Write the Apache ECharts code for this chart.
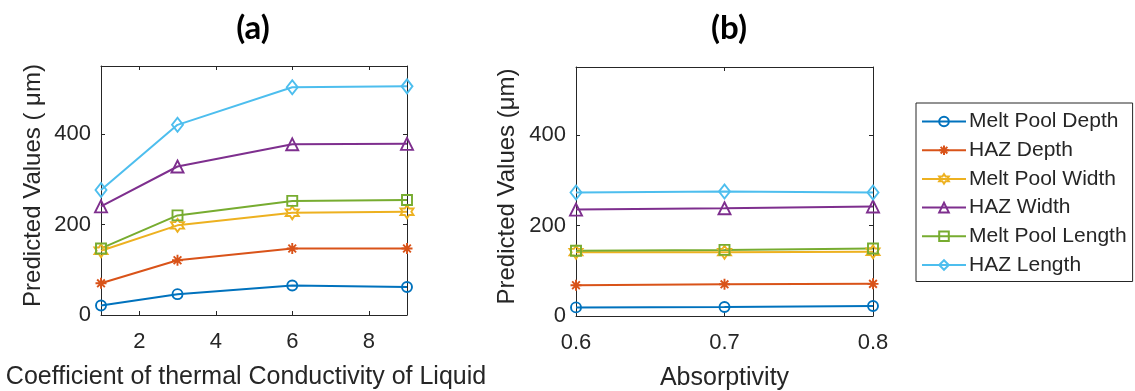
<!DOCTYPE html>
<html>
<head>
<meta charset="utf-8">
<script src="https://cdn.jsdelivr.net/npm/echarts@6/dist/echarts.min.js"></script>
<style>
  html, body { margin: 0; padding: 0; background: #fff; }
  #chart { width: 1135px; height: 391px; }
</style>
</head>
<body>
<div id="chart"></div>
<script>
// Parameter values on the two x axes
const conductivity = [1, 3, 6, 9];
const absorptivity = [0.6, 0.7, 0.8];

// Tick labels
const ticksCondX = [2, 4, 6, 8];
const ticksAbsX = [0.6, 0.7, 0.8];
const ticksY = [0, 200, 400];

// Series names
const seriesNames = ['Melt Pool Depth', 'HAZ Depth', 'Melt Pool Width', 'HAZ Width', 'Melt Pool Length', 'HAZ Length'];

// (a) predicted values (µm) vs coefficient of thermal conductivity of liquid
const meltDepthA = [21, 46, 65, 62];
const hazDepthA = [70, 121, 147, 147];
const meltWidthA = [142, 198, 226, 228];
const hazWidthA = [240, 328, 377, 378];
const meltLengthA = [147, 220, 252, 254];
const hazLengthA = [276, 420, 503, 505];

// (b) predicted values (µm) vs absorptivity
const meltDepthB = [19, 20, 22];
const hazDepthB = [68, 70, 71];
const meltWidthB = [141, 141, 142];
const hazWidthB = [235, 238, 242];
const meltLengthB = [144, 146, 149];
const hazLengthB = [273, 275, 273];

const colors = ['#0072BD', '#D95319', '#EDB120', '#7E2F8E', '#77AC30', '#4DBEEE'];

// Marker shapes (open markers)
const asterisk = 'path://M5,0L5,10M0,5L10,5M1.5,1.5L8.5,8.5M1.5,8.5L8.5,1.5';
const hexagram = 'path://M5,0L6.443,2.5L9.33,2.5L7.887,5L9.33,7.5L6.443,7.5L5,10L3.557,7.5L0.67,7.5L2.113,5L0.67,2.5L3.557,2.5Z';
const symbols = ['circle', asterisk, hexagram, 'triangle', 'rect', 'diamond'];
const symbolSizes = [10, 11, 13, 12, 10, [11, 14]];

const dataA = [meltDepthA, hazDepthA, meltWidthA, hazWidthA, meltLengthA, hazLengthA];
const dataB = [meltDepthB, hazDepthB, meltWidthB, hazWidthB, meltLengthB, hazLengthB];

const textColor = '#262626';
const font = "'Liberation Sans', Arial, sans-serif";

function makeSeries(xs, ys, idx, axisIdx) {
  return {
    type: 'line',
    name: seriesNames[idx],
    xAxisIndex: axisIdx,
    yAxisIndex: axisIdx,
    data: xs.map((x, i) => [x, ys[i]]),
    symbol: symbols[idx],
    symbolSize: symbolSizes[idx],
    showAllSymbol: true,
    lineStyle: { color: colors[idx], width: 2 },
    itemStyle: { color: 'rgba(255,255,255,0)', borderColor: colors[idx], borderWidth: 1.9 },
    emphasis: { disabled: true },
    z: 3
  };
}

function bottomX(grid, min, max, ticks, name, namePad) {
  return {
    type: 'value', gridIndex: grid, position: 'bottom', min: min, max: max,
    name: name, nameLocation: 'middle', nameGap: 50,
    nameTextStyle: { fontFamily: font, fontSize: 25, color: textColor, padding: namePad },
    axisLine: { show: true, onZero: false, lineStyle: { color: textColor, width: 1 } },
    axisTick: { show: true, inside: true, length: 4, customValues: ticks, lineStyle: { color: textColor } },
    axisLabel: { show: true, customValues: ticks, fontFamily: font, fontSize: 22, color: textColor, margin: 16 },
    splitLine: { show: false }
  };
}
function topX(grid, min, max, ticks) {
  return {
    type: 'value', gridIndex: grid, position: 'top', min: min, max: max,
    axisLine: { show: true, onZero: false, lineStyle: { color: textColor, width: 1 } },
    axisTick: { show: true, inside: true, length: 4, customValues: ticks, lineStyle: { color: textColor } },
    axisLabel: { show: false },
    splitLine: { show: false }
  };
}
function leftY(grid, name, nameGap) {
  return {
    type: 'value', gridIndex: grid, position: 'left', min: 0, max: 550,
    name: name, nameLocation: 'middle', nameGap: nameGap,
    nameTextStyle: { fontFamily: font, fontSize: 24, color: textColor, padding: [0, 0, 0, 10] },
    axisLine: { show: true, onZero: false, lineStyle: { color: textColor, width: 1 } },
    axisTick: { show: true, inside: true, length: 4, customValues: ticksY, lineStyle: { color: textColor } },
    axisLabel: { show: true, customValues: ticksY, fontFamily: font, fontSize: 22, color: textColor, margin: 10 },
    splitLine: { show: false }
  };
}
function rightY(grid) {
  return {
    type: 'value', gridIndex: grid, position: 'right', min: 0, max: 550,
    axisLine: { show: true, onZero: false, lineStyle: { color: textColor, width: 1 } },
    axisTick: { show: true, inside: true, length: 4, customValues: ticksY, lineStyle: { color: textColor } },
    axisLabel: { show: false },
    splitLine: { show: false }
  };
}

const series = [];
dataA.forEach((ys, i) => series.push(makeSeries(conductivity, ys, i, 0)));
dataB.forEach((ys, i) => series.push(makeSeries(absorptivity, ys, i, 1)));

const titleStyle = { fontFamily: "Lato, 'Open Sans', sans-serif", fontWeight: 'bold', fontSize: 33, color: '#000' };

const chart = echarts.init(document.getElementById('chart'));
chart.setOption({
  animation: false,
  backgroundColor: '#fff',
  title: [
    { text: '(a)', left: 248, top: 7, textAlign: 'center', textStyle: titleStyle },
    { text: '(b)', left: 724, top: 7, textAlign: 'center', textStyle: titleStyle }
  ],
  grid: [
    { left: 101, top: 66, width: 306, height: 249, outerBoundsMode: 'none', containLabel: false },
    { left: 576, top: 67, width: 297, height: 249, outerBoundsMode: 'none', containLabel: false }
  ],
  xAxis: [
    bottomX(0, 1, 9, ticksCondX, 'Coefficient of thermal Conductivity of Liquid', [0, 16, 0, 0]),
    bottomX(1, 0.6, 0.8, ticksAbsX, 'Absorptivity', [0, 0, 0, 0]),
    topX(0, 1, 9, ticksCondX),
    topX(1, 0.6, 0.8, ticksAbsX)
  ],
  yAxis: [
    leftY(0, 'Predicted Values ( μm)', 56),
    leftY(1, 'Predicted Values (μm)', 57),
    rightY(0),
    rightY(1)
  ],
  legend: {
    data: seriesNames,
    orient: 'vertical',
    left: 916, top: 103,
    padding: [8, 6, 6, 5],
    itemWidth: 44, itemHeight: 12, itemGap: 7.7,
    borderColor: textColor, borderWidth: 1,
    textStyle: { fontFamily: font, fontSize: 21, color: textColor, lineHeight: 21, padding: [0, 0, 0, -2] },
    selectedMode: false
  },
  series: series
});
</script>
</body>
</html>
